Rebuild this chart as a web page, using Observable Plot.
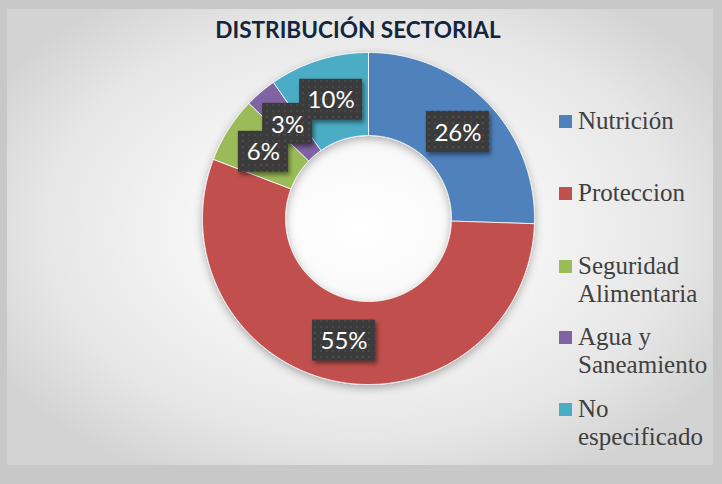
<!DOCTYPE html>
<html><head><meta charset="utf-8">
<script src="https://cdn.jsdelivr.net/npm/d3@7"></script>
<script src="https://cdn.jsdelivr.net/npm/@observablehq/plot@0.6"></script>
<style>
body{margin:0;background:#c8c8c8;}
#frame{position:relative;width:722px;height:484px;overflow:hidden;background:#c8c8c8;}
#bg{position:absolute;left:7px;top:9px;width:706px;height:456px;
 background:radial-gradient(ellipse 60% 62% at 50% 48%, #ffffff 0%, #f7f7f7 35%, #e6e6e6 75%, #d3d3d3 100%);}
#title{position:absolute;left:0;width:716px;top:18px;text-align:center;font:bold 22.6px Lato, sans-serif;color:#132640;line-height:24px;white-space:nowrap;}
#chart{position:absolute;left:0;top:0;}
.li{position:absolute;left:559px;font:25px "Liberation Serif", serif;color:#404040;line-height:28px;}
.li .sw{position:absolute;left:0;width:13px;height:13px;}
.li .tx{position:absolute;left:19px;white-space:nowrap;}
</style></head>
<body>
<svg width="0" height="0" style="position:absolute">
 <defs>
  <pattern id="dots" width="6" height="6" patternUnits="userSpaceOnUse">
   <rect width="6" height="6" fill="#3a3a3a"></rect>
   <circle cx="3" cy="3" r="1.1" fill="#4e4e4e"></circle>
  </pattern>
  <filter id="boxShadow" x="-20%" y="-20%" width="150%" height="160%">
   <feDropShadow dx="2" dy="3" stdDeviation="2" flood-color="#000" flood-opacity="0.45"></feDropShadow>
  </filter>
  <filter id="ringShadow" x="-10%" y="-10%" width="120%" height="125%">
   <feDropShadow dx="0" dy="3" stdDeviation="4" flood-color="#000" flood-opacity="0.3"></feDropShadow>
  </filter>
 </defs>
</svg>
<div id="frame">
 <div id="bg"></div>
 <div id="chart"></div>
 <div id="title">DISTRIBUCIÓN SECTORIAL</div>
 <div id="legend"></div>
</div>
<script>
const categories = ["Nutrición", "Proteccion", "Seguridad Alimentaria", "Agua y Saneamiento", "No especificado"];
const legendLines = [["Nutrición"], ["Proteccion"], ["Seguridad", "Alimentaria"], ["Agua y", "Saneamiento"], ["No", "especificado"]];
const values = [25.5, 55.3, 6.4, 3.1, 9.7];
const colors = ["#4F81BD", "#C0504D", "#9BBB59", "#8064A2", "#4BACC6"];

const W = 722, H = 484;
const cx = 368, cy = 218, R = 166; // pixel layout of the ring
const inner = 0.5;
const total = d3.sum(values);

// Build ring polygons from data
const pts = [];
const labels = [];
let acc = 0;
values.forEach((v, i) => {
  const a0 = acc / total * 2 * Math.PI;
  acc += v;
  const a1 = acc / total * 2 * Math.PI;
  const n = Math.max(4, Math.ceil((a1 - a0) / 0.01));
  const cat = categories[i];
  const poly = [];
  for (let k = 0; k <= n; k++) {
    const a = a0 + (a1 - a0) * k / n;
    poly.push({cat, x: Math.sin(a), y: Math.cos(a)});
  }
  for (let k = n; k >= 0; k--) {
    const a = a0 + (a1 - a0) * k / n;
    poly.push({cat, x: inner * Math.sin(a), y: inner * Math.cos(a)});
  }
  poly.push(poly[0]);
  pts.push(...poly);
  const am = (a0 + a1) / 2, rm = (1 + inner) / 2;
  const text = Math.round(v / total * 100) + "%";
  const bw = (text.length === 3 ? 63 : 50) / 2 / R, bh = 20.5 / R;
  const lx = rm * Math.sin(am), ly = rm * Math.cos(am);
  labels.push({cat, text, x: lx, y: ly, x1: lx - bw, x2: lx + bw, y1: ly - bh, y2: ly + bh});
});

const plot = Plot.plot({
  width: W, height: H,
  marginLeft: cx - R, marginRight: W - (cx + R),
  marginTop: cy - R, marginBottom: H - (cy + R),
  x: {domain: [-1, 1], axis: null},
  y: {domain: [-1, 1], axis: null},
  color: {domain: categories, range: colors},
  style: {background: "transparent", overflow: "visible"},
  marks: [
    Plot.line(pts, {x: "x", y: "y", z: "cat", fill: "cat", stroke: "white", strokeWidth: 0.8, curve: "linear"}),
    Plot.rect(labels, {x1: "x1", x2: "x2", y1: "y1", y2: "y2", fill: "url(#dots)"}),
    Plot.text(labels, {x: "x", y: "y", text: "text", fill: "white", fontSize: 24, fontFamily: "Lato, sans-serif", dy: 1})
  ]
});
plot.querySelector('g[aria-label="line"]').setAttribute("filter", "url(#ringShadow)");
plot.querySelector('g[aria-label="rect"]').setAttribute("filter", "url(#boxShadow)");
document.getElementById("chart").appendChild(plot);

// Legend
const tops = [106.5, 178.5, 251.5, 322.5, 394.5];
const leg = document.getElementById("legend");
legendLines.forEach((lines, i) => {
  const d = document.createElement("div");
  d.className = "li";
  d.style.top = tops[i] + "px";
  const sw = document.createElement("div");
  sw.className = "sw"; sw.style.background = colors[i]; sw.style.top = "8px";
  const tx = document.createElement("div");
  tx.className = "tx"; tx.innerHTML = lines.join("<br>");
  d.appendChild(sw); d.appendChild(tx);
  leg.appendChild(d);
});
</script>
</body></html>
